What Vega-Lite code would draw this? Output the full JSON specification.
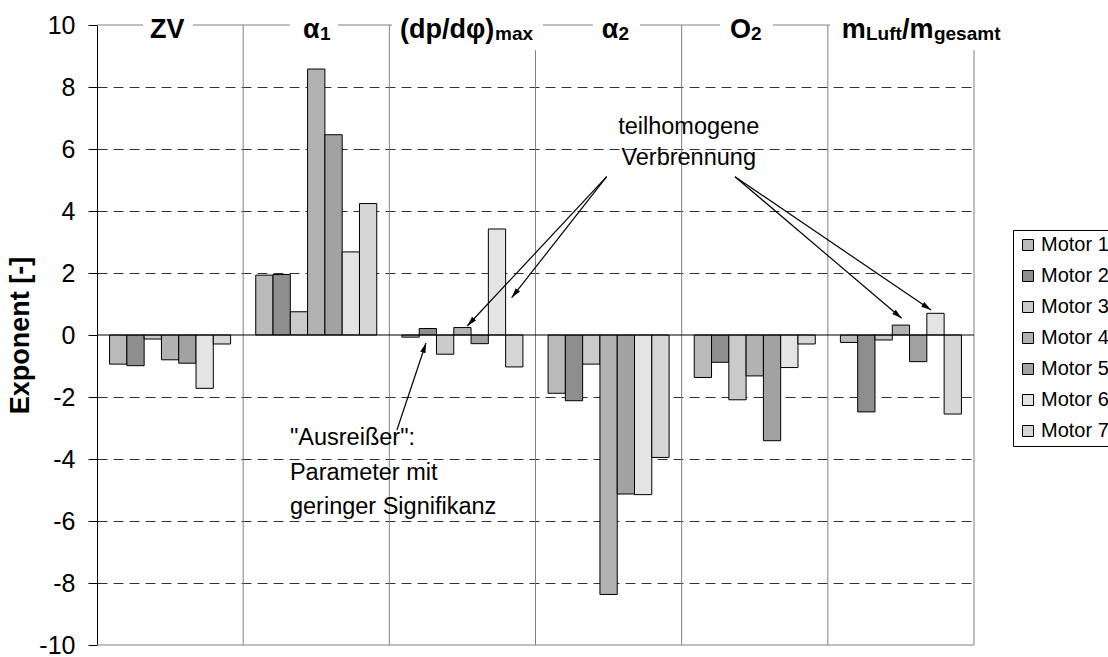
{
  "$schema": "https://vega.github.io/schema/vega-lite/v6.json",
  "width": 877,
  "height": 620,
  "autosize": {"type": "none"},
  "padding": {"left": 97, "top": 25, "right": 134, "bottom": 12},
  "background": "white",
  "config": {"view": {"stroke": null}, "font": "Liberation Sans"},
  "datasets": {
    "bars": [
      {"Parameter": "ZV", "Motor": "Motor 1", "Exponent": -0.94},
      {"Parameter": "ZV", "Motor": "Motor 2", "Exponent": -0.99},
      {"Parameter": "ZV", "Motor": "Motor 3", "Exponent": -0.13},
      {"Parameter": "ZV", "Motor": "Motor 4", "Exponent": -0.8},
      {"Parameter": "ZV", "Motor": "Motor 5", "Exponent": -0.91},
      {"Parameter": "ZV", "Motor": "Motor 6", "Exponent": -1.72},
      {"Parameter": "ZV", "Motor": "Motor 7", "Exponent": -0.29},
      {"Parameter": "α1", "Motor": "Motor 1", "Exponent": 1.93},
      {"Parameter": "α1", "Motor": "Motor 2", "Exponent": 1.95},
      {"Parameter": "α1", "Motor": "Motor 3", "Exponent": 0.75},
      {"Parameter": "α1", "Motor": "Motor 4", "Exponent": 8.58},
      {"Parameter": "α1", "Motor": "Motor 5", "Exponent": 6.46},
      {"Parameter": "α1", "Motor": "Motor 6", "Exponent": 2.68},
      {"Parameter": "α1", "Motor": "Motor 7", "Exponent": 4.24},
      {"Parameter": "(dp/dφ)max", "Motor": "Motor 1", "Exponent": -0.07},
      {"Parameter": "(dp/dφ)max", "Motor": "Motor 2", "Exponent": 0.21},
      {"Parameter": "(dp/dφ)max", "Motor": "Motor 3", "Exponent": -0.62},
      {"Parameter": "(dp/dφ)max", "Motor": "Motor 4", "Exponent": 0.24},
      {"Parameter": "(dp/dφ)max", "Motor": "Motor 5", "Exponent": -0.28},
      {"Parameter": "(dp/dφ)max", "Motor": "Motor 6", "Exponent": 3.42},
      {"Parameter": "(dp/dφ)max", "Motor": "Motor 7", "Exponent": -1.03},
      {"Parameter": "α2", "Motor": "Motor 1", "Exponent": -1.88},
      {"Parameter": "α2", "Motor": "Motor 2", "Exponent": -2.12},
      {"Parameter": "α2", "Motor": "Motor 3", "Exponent": -0.94},
      {"Parameter": "α2", "Motor": "Motor 4", "Exponent": -8.37},
      {"Parameter": "α2", "Motor": "Motor 5", "Exponent": -5.13},
      {"Parameter": "α2", "Motor": "Motor 6", "Exponent": -5.15},
      {"Parameter": "α2", "Motor": "Motor 7", "Exponent": -3.95},
      {"Parameter": "O2", "Motor": "Motor 1", "Exponent": -1.37},
      {"Parameter": "O2", "Motor": "Motor 2", "Exponent": -0.88},
      {"Parameter": "O2", "Motor": "Motor 3", "Exponent": -2.09},
      {"Parameter": "O2", "Motor": "Motor 4", "Exponent": -1.32},
      {"Parameter": "O2", "Motor": "Motor 5", "Exponent": -3.41},
      {"Parameter": "O2", "Motor": "Motor 6", "Exponent": -1.05},
      {"Parameter": "O2", "Motor": "Motor 7", "Exponent": -0.29},
      {"Parameter": "mLuft/mgesamt", "Motor": "Motor 1", "Exponent": -0.24},
      {"Parameter": "mLuft/mgesamt", "Motor": "Motor 2", "Exponent": -2.48},
      {"Parameter": "mLuft/mgesamt", "Motor": "Motor 3", "Exponent": -0.16},
      {"Parameter": "mLuft/mgesamt", "Motor": "Motor 4", "Exponent": 0.32},
      {"Parameter": "mLuft/mgesamt", "Motor": "Motor 5", "Exponent": -0.86},
      {"Parameter": "mLuft/mgesamt", "Motor": "Motor 6", "Exponent": 0.7},
      {"Parameter": "mLuft/mgesamt", "Motor": "Motor 7", "Exponent": -2.55}
    ],
    "separators": [
      {"u": 1, "v1": -10, "v2": 10},
      {"u": 2, "v1": -10, "v2": 10},
      {"u": 3, "v1": -10, "v2": 9.19},
      {"u": 4, "v1": -10, "v2": 10},
      {"u": 5, "v1": -10, "v2": 10},
      {"u": 6, "v1": -10, "v2": 9.19}
    ],
    "hlines": [
      {"u1": 0, "u2": 0.315, "v": 10},
      {"u1": 0.657, "u2": 1.32, "v": 10},
      {"u1": 1.649, "u2": 2.018, "v": 10},
      {"u1": 3.051, "u2": 3.393, "v": 10},
      {"u1": 3.715, "u2": 4.262, "v": 10},
      {"u1": 4.625, "u2": 5.015, "v": 10},
      {"u1": 0, "u2": 6, "v": -10}
    ],
    "zeroline": [{"u1": 0, "u2": 6, "v": 0}],
    "arrows": [
      {"x1": 3.487, "y1": 5.106, "x2": 2.533, "y2": 0.29, "ang": 223.0},
      {"x1": 3.487, "y1": 5.106, "x2": 2.837, "y2": 1.203, "ang": 218.1},
      {"x1": 4.365, "y1": 5.106, "x2": 5.505, "y2": 0.539, "ang": 130.3},
      {"x1": 4.365, "y1": 5.106, "x2": 5.706, "y2": 0.806, "ang": 124.2},
      {"x1": 2.052, "y1": -3.065, "x2": 2.251, "y2": -0.258, "ang": 18.4}
    ],
    "notesCenter": [
      {"u": 4.048, "v": 6.71, "t": "teilhomogene"},
      {"u": 4.048, "v": 5.71, "t": "Verbrennung"}
    ],
    "notesLeft": [
      {"u": 1.32, "v": -3.32, "t": "\"Ausreißer\":"},
      {"u": 1.32, "v": -4.45, "t": "Parameter mit"},
      {"u": 1.32, "v": -5.55, "t": "geringer Signifikanz"}
    ],
    "labelMain": [
      {"u": 0.363, "v": 9.581, "t": "ZV"},
      {"u": 1.409, "v": 9.581, "t": "α"},
      {"u": 2.073, "v": 9.581, "t": "(dp/dφ)"},
      {"u": 3.453, "v": 9.581, "t": "α"},
      {"u": 4.331, "v": 9.581, "t": "O"},
      {"u": 5.095, "v": 9.581, "t": "m"},
      {"u": 5.507, "v": 9.581, "t": "/m"}
    ],
    "labelSub": [
      {"u": 1.526, "v": 9.516, "t": "1"},
      {"u": 2.723, "v": 9.516, "t": "max"},
      {"u": 3.568, "v": 9.516, "t": "2"},
      {"u": 4.475, "v": 9.516, "t": "2"},
      {"u": 5.261, "v": 9.516, "t": "Luft"},
      {"u": 5.726, "v": 9.516, "t": "gesamt"}
    ]
  },
  "layer": [
    {
      "data": {"name": "bars"},
      "mark": {"type": "bar", "stroke": "black", "strokeWidth": 1},
      "encoding": {
        "x": {
          "field": "Parameter", "type": "nominal",
          "sort": ["ZV", "α1", "(dp/dφ)max", "α2", "O2", "mLuft/mgesamt"],
          "scale": {"paddingInner": 0.172, "paddingOuter": 0.086},
          "axis": null
        },
        "xOffset": {
          "field": "Motor", "type": "nominal",
          "sort": ["Motor 1", "Motor 2", "Motor 3", "Motor 4", "Motor 5", "Motor 6", "Motor 7"],
          "scale": {"paddingInner": 0, "paddingOuter": 0}
        },
        "y": {
          "field": "Exponent", "type": "quantitative",
          "scale": {"domain": [-10, 10], "nice": false},
          "axis": {
            "title": "Exponent [-]",
            "values": [-10, -8, -6, -4, -2, 0, 2, 4, 6, 8, 10],
            "labelExpr": "'' + datum.value",
            "labelFontSize": 25, "labelColor": "black", "labelFont": "Liberation Sans",
            "labelPadding": 13, "tickSize": 9, "tickColor": "black", "domainColor": "black",
            "titleFontSize": 27, "titleFont": "Liberation Sans", "titleFontWeight": "bold",
            "titleColor": "black", "titlePadding": 4,
            "grid": true, "gridDash": [10, 6],
            "gridColor": {"condition": {"test": "datum.value == 0 || abs(datum.value) == 10", "value": "transparent"}, "value": "#333333"}
          }
        },
        "fill": {
          "field": "Motor", "type": "nominal",
          "scale": {
            "domain": ["Motor 1", "Motor 2", "Motor 3", "Motor 4", "Motor 5", "Motor 6", "Motor 7"],
            "range": ["#bababa", "#8e8e8e", "#cacaca", "#b2b2b2", "#a2a2a2", "#e4e4e4", "#d6d6d6"]
          },
          "legend": {
            "title": null, "orient": "none", "legendX": 916, "legendY": 205,
            "padding": 5, "rowPadding": 11, "symbolType": "square", "symbolSize": 121,
            "symbolStrokeColor": "black", "symbolStrokeWidth": 1,
            "labelFontSize": 20, "labelFont": "Liberation Sans", "labelColor": "black", "labelOffset": 3,
            "strokeColor": "black", "fillColor": "white"
          }
        }
      }
    },
    {
      "layer": [
        {
          "data": {"name": "separators"},
          "mark": {"type": "rule", "color": "#808080", "strokeWidth": 1},
          "encoding": {
            "x": {"field": "u", "type": "quantitative", "scale": {"domain": [0, 6], "nice": false, "zero": false}, "axis": null},
            "y": {"field": "v1", "type": "quantitative", "scale": {"domain": [-10, 10], "nice": false}, "axis": null},
            "y2": {"field": "v2"}
          }
        },
        {
          "data": {"name": "hlines"},
          "mark": {"type": "rule", "color": "#808080", "strokeWidth": 1},
          "encoding": {
            "x": {"field": "u1", "type": "quantitative", "axis": null},
            "x2": {"field": "u2"},
            "y": {"field": "v", "type": "quantitative", "axis": null}
          }
        },
        {
          "data": {"name": "zeroline"},
          "mark": {"type": "rule", "color": "black", "strokeWidth": 1},
          "encoding": {
            "x": {"field": "u1", "type": "quantitative", "axis": null},
            "x2": {"field": "u2"},
            "y": {"field": "v", "type": "quantitative", "axis": null}
          }
        },
        {
          "data": {"name": "arrows"},
          "mark": {"type": "rule", "color": "black", "strokeWidth": 1.2},
          "encoding": {
            "x": {"field": "x1", "type": "quantitative", "axis": null},
            "x2": {"field": "x2"},
            "y": {"field": "y1", "type": "quantitative", "axis": null},
            "y2": {"field": "y2"}
          }
        },
        {
          "data": {"name": "arrows"},
          "mark": {"type": "point", "shape": "M0,0L-0.55,2L0.55,2Z", "filled": true, "size": 100, "color": "black", "opacity": 1},
          "encoding": {
            "x": {"field": "x2", "type": "quantitative", "axis": null},
            "y": {"field": "y2", "type": "quantitative", "axis": null},
            "angle": {"field": "ang", "type": "quantitative", "scale": null}
          }
        },
        {
          "data": {"name": "notesCenter"},
          "mark": {"type": "text", "align": "center", "baseline": "middle", "fontSize": 23.5, "font": "Liberation Sans", "color": "black"},
          "encoding": {
            "x": {"field": "u", "type": "quantitative", "axis": null},
            "y": {"field": "v", "type": "quantitative", "axis": null},
            "text": {"field": "t"}
          }
        },
        {
          "data": {"name": "notesLeft"},
          "mark": {"type": "text", "align": "left", "baseline": "middle", "fontSize": 23.5, "font": "Liberation Sans", "color": "black"},
          "encoding": {
            "x": {"field": "u", "type": "quantitative", "axis": null},
            "y": {"field": "v", "type": "quantitative", "axis": null},
            "text": {"field": "t"}
          }
        },
        {
          "data": {"name": "labelMain"},
          "mark": {"type": "text", "align": "left", "baseline": "alphabetic", "fontSize": 27, "fontWeight": "bold", "font": "Liberation Sans", "color": "black"},
          "encoding": {
            "x": {"field": "u", "type": "quantitative", "axis": null},
            "y": {"field": "v", "type": "quantitative", "axis": null},
            "text": {"field": "t"}
          }
        },
        {
          "data": {"name": "labelSub"},
          "mark": {"type": "text", "align": "left", "baseline": "alphabetic", "fontSize": 19, "fontWeight": "bold", "font": "Liberation Sans", "color": "black"},
          "encoding": {
            "x": {"field": "u", "type": "quantitative", "axis": null},
            "y": {"field": "v", "type": "quantitative", "axis": null},
            "text": {"field": "t"}
          }
        }
      ]
    }
  ],
  "resolve": {"scale": {"x": "independent"}, "axis": {"x": "independent", "y": "independent"}}
}
